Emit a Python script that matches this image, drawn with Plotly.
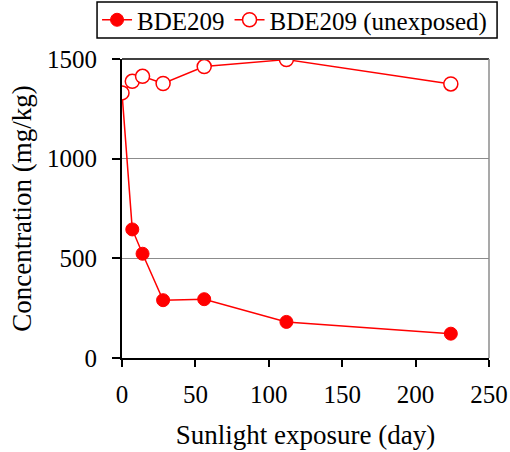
import plotly.graph_objects as go

# Sampling days and BDE209 concentrations (mg/kg)
days = [0, 7, 14, 28, 56, 112, 224]
exposed = [1330, 645, 523, 290, 295, 181, 122]
unexposed = [1330, 1388, 1413, 1377, 1462, 1497, 1375]

x_ticks = [0, 50, 100, 150, 200, 250]
y_ticks = [0, 500, 1000, 1500]

FONT = "Liberation Serif"
RED = "#ff0000"

fig = go.Figure()
fig.add_trace(go.Scatter(
    x=days, y=exposed, name="BDE209", mode="lines+markers",
    line=dict(color=RED, width=1.5),
    marker=dict(symbol="circle", size=13, color=RED, line=dict(color=RED, width=1)),
))
fig.add_trace(go.Scatter(
    x=days, y=unexposed, name="BDE209 (unexposed)", mode="lines+markers",
    line=dict(color=RED, width=1.5),
    marker=dict(symbol="circle", size=14, color="white", line=dict(color=RED, width=1.5)),
))

fig.update_layout(
    width=510, height=452,
    margin=dict(l=122, r=21, t=59, b=94, autoexpand=False),
    paper_bgcolor="white", plot_bgcolor="white",
    font=dict(family=FONT, size=25, color="black"),
    showlegend=True,
    legend=dict(
        orientation="h", x=-0.068, y=1.1304, xref="paper", yref="paper",
        xanchor="left", yanchor="middle",
        bgcolor="rgba(0,0,0,0)", borderwidth=0,
        font=dict(family=FONT, size=25, color="black"), itemwidth=30,
        tracegroupgap=0,
    ),
    xaxis=dict(
        range=[0, 250], tickvals=x_ticks, ticks="outside", ticklen=7,
        tickwidth=1.5, tickcolor="black", showline=True, linecolor="black",
        linewidth=2, showgrid=False, zeroline=False, automargin=False,
        ticklabelstandoff=6,
        title=dict(text="Sunlight exposure (day)", standoff=18,
                   font=dict(family=FONT, size=27, color="black")),
        tickfont=dict(family=FONT, size=25, color="black"),
    ),
    yaxis=dict(
        range=[0, 1500], tickvals=y_ticks, ticks="outside", ticklen=8,
        tickwidth=1.5, tickcolor="black", showline=True, linecolor="black",
        linewidth=2, showgrid=True, gridcolor="#8c8c8c", gridwidth=1,
        zeroline=False, automargin=False,
        ticklabelstandoff=10,
        title=dict(text="Concentration (mg/kg)", standoff=8,
                   font=dict(family=FONT, size=27, color="black")),
        tickfont=dict(family=FONT, size=25, color="black"),
    ),
)

# Frame: top and right borders of the plotting area
fig.add_shape(type="line", xref="paper", yref="paper", x0=0, x1=1, y0=1, y1=1,
              line=dict(color="#404040", width=2))
fig.add_shape(type="line", xref="paper", yref="paper", x0=1, x1=1, y0=0, y1=1,
              line=dict(color="#8c8c8c", width=1.5))
# Box around the legend
fig.add_shape(type="rect", xref="paper", yref="paper",
              x0=-0.068, x1=1.022, y0=1.0702, y1=1.1906,
              line=dict(color="black", width=1.5), fillcolor="rgba(0,0,0,0)")

fig.write_html("out.html")
